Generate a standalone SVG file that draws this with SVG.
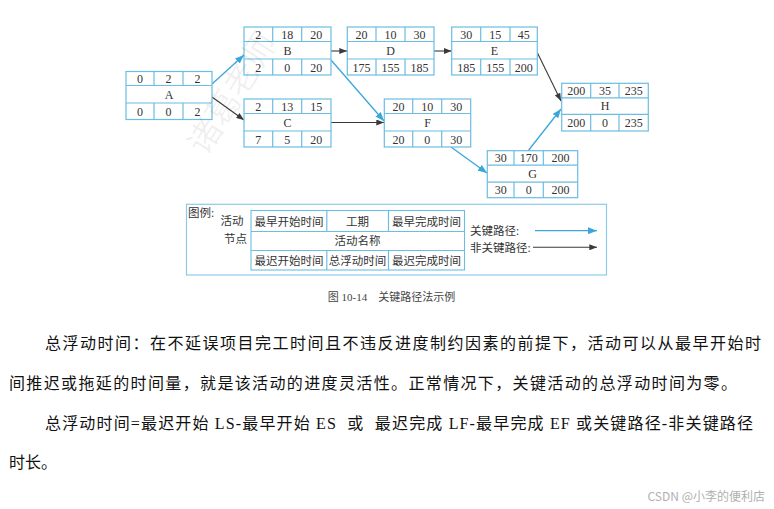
<svg xmlns="http://www.w3.org/2000/svg" width="774" height="509" viewBox="0 0 774 509">
<style>
.box{fill:#fff;stroke:#6bbde2;stroke-width:1.2}
.ln{stroke:#6bbde2;stroke-width:1.2;fill:none}
.n{font-family:"Liberation Serif","Noto Sans CJK SC",serif;font-size:12px;fill:#333;text-anchor:middle;dominant-baseline:central}
.lg{font-family:"Liberation Serif","Noto Sans CJK SC",serif;font-size:11.5px;fill:#333;dominant-baseline:central}
.lgc{text-anchor:middle}
.crit{stroke:#3aa6dc;stroke-width:1.3;fill:none;marker-end:url(#mb)}
.non{stroke:#3a3a3a;stroke-width:1.1;fill:none;marker-end:url(#mk)}
.para{font-family:"Liberation Serif","Noto Sans CJK SC",serif;font-size:16px;fill:#111;dominant-baseline:central}
</style>
<defs>
<marker id="mb" viewBox="0 0 9 7" refX="9" refY="3.5" markerWidth="9" markerHeight="7" markerUnits="userSpaceOnUse" orient="auto"><path d="M0,0 L9,3.5 L0,7 z" fill="#3aa6dc"/></marker>
<marker id="mk" viewBox="0 0 9 7" refX="9" refY="3.5" markerWidth="8" markerHeight="6" markerUnits="userSpaceOnUse" orient="auto"><path d="M0,0 L9,3.5 L0,7 z" fill="#3a3a3a"/></marker>
</defs>
<rect width="774" height="509" fill="#fff"/>

<g id="connectors">
<path class="crit" d="M212,84 L244,55"/>
<path class="non" d="M212,97 L244,120"/>
<path class="non" d="M331,51 L347,51"/>
<path class="crit" d="M331,60 L384,121"/>
<path class="non" d="M331,122.5 L384,122.5"/>
<path class="non" d="M434,51 L451.5,51"/>
<path class="non" d="M537,52 L561,101"/>
<path class="crit" d="M451,147 L487,173"/>
<path class="crit" d="M528,151 L561,109"/>
</g>

<g id="node-A" transform="translate(126,71.5)">
<rect class="box" width="86" height="48"/>
<path class="ln" d="M0,14 H86 M0,31.5 H86 M28,0 V14 M57,0 V14 M28,31.5 V48 M57,31.5 V48"/>
<text class="n" x="14" y="7.5">0</text><text class="n" x="42.5" y="7.5">2</text><text class="n" x="71.5" y="7.5">2</text>
<text class="n" x="43" y="23">A</text>
<text class="n" x="14" y="40">0</text><text class="n" x="42.5" y="40">0</text><text class="n" x="71.5" y="40">2</text>
</g>

<g id="node-B" transform="translate(244,27)">
<rect class="box" width="87" height="48"/>
<path class="ln" d="M0,14.5 H87 M0,32 H87 M28.7,0 V14.5 M57.7,0 V14.5 M28.7,32 V48 M57.7,32 V48"/>
<text class="n" x="14.3" y="7.5">2</text><text class="n" x="43.2" y="7.5">18</text><text class="n" x="72.3" y="7.5">20</text>
<text class="n" x="43.5" y="23.5">B</text>
<text class="n" x="14.3" y="40.5">2</text><text class="n" x="43.2" y="40.5">0</text><text class="n" x="72.3" y="40.5">20</text>
</g>

<g id="node-C" transform="translate(244,99)">
<rect class="box" width="87" height="48"/>
<path class="ln" d="M0,14.5 H87 M0,32 H87 M28.7,0 V14.5 M57.7,0 V14.5 M28.7,32 V48 M57.7,32 V48"/>
<text class="n" x="14.3" y="7.5">2</text><text class="n" x="43.2" y="7.5">13</text><text class="n" x="72.3" y="7.5">15</text>
<text class="n" x="43.5" y="23.5">C</text>
<text class="n" x="14.3" y="40.5">7</text><text class="n" x="43.2" y="40.5">5</text><text class="n" x="72.3" y="40.5">20</text>
</g>

<g id="node-D" transform="translate(347.3,27)">
<rect class="box" width="86.7" height="48"/>
<path class="ln" d="M0,14.5 H86.7 M0,32 H86.7 M28.7,0 V14.5 M57.7,0 V14.5 M28.7,32 V48 M57.7,32 V48"/>
<text class="n" x="14.3" y="7.5">20</text><text class="n" x="43.2" y="7.5">10</text><text class="n" x="72.2" y="7.5">30</text>
<text class="n" x="43.3" y="23.5">D</text>
<text class="n" x="14.3" y="40.5">175</text><text class="n" x="43.2" y="40.5">155</text><text class="n" x="72.2" y="40.5">185</text>
</g>

<g id="node-E" transform="translate(451.7,27)">
<rect class="box" width="85.6" height="48"/>
<path class="ln" d="M0,14.5 H85.6 M0,32 H85.6 M29,0 V14.5 M58.3,0 V14.5 M29,32 V48 M58.3,32 V48"/>
<text class="n" x="14.5" y="7.5">30</text><text class="n" x="43.6" y="7.5">15</text><text class="n" x="72" y="7.5">45</text>
<text class="n" x="42.8" y="23.5">E</text>
<text class="n" x="14.5" y="40.5">185</text><text class="n" x="43.6" y="40.5">155</text><text class="n" x="72" y="40.5">200</text>
</g>

<g id="node-F" transform="translate(384.3,99)">
<rect class="box" width="86.4" height="48"/>
<path class="ln" d="M0,14.5 H86.4 M0,32 H86.4 M28.4,0 V14.5 M57.4,0 V14.5 M28.4,32 V48 M57.4,32 V48"/>
<text class="n" x="14.2" y="7.5">20</text><text class="n" x="42.9" y="7.5">10</text><text class="n" x="71.9" y="7.5">30</text>
<text class="n" x="43.2" y="23.5">F</text>
<text class="n" x="14.2" y="40.5">20</text><text class="n" x="42.9" y="40.5">0</text><text class="n" x="71.9" y="40.5">30</text>
</g>

<g id="node-G" transform="translate(487.3,150.7)">
<rect class="box" width="90.4" height="47"/>
<path class="ln" d="M0,14.5 H90.4 M0,31.5 H90.4 M26.7,0 V14.5 M56,0 V14.5 M26.7,31.5 V47 M56,31.5 V47"/>
<text class="n" x="13.4" y="7.5">30</text><text class="n" x="41.4" y="7.5">170</text><text class="n" x="73.2" y="7.5">200</text>
<text class="n" x="45.2" y="23">G</text>
<text class="n" x="13.4" y="39.5">30</text><text class="n" x="41.4" y="39.5">0</text><text class="n" x="73.2" y="39.5">200</text>
</g>

<g id="node-H" transform="translate(561.7,83.3)">
<rect class="box" width="86.6" height="47.7"/>
<path class="ln" d="M0,14.5 H86.6 M0,31 H86.6 M29,0 V14.5 M57.3,0 V14.5 M29,31 V47.7 M57.3,31 V47.7"/>
<text class="n" x="14.5" y="7.5">200</text><text class="n" x="43.2" y="7.5">35</text><text class="n" x="72" y="7.5">235</text>
<text class="n" x="43.3" y="22.8">H</text>
<text class="n" x="14.5" y="39.5">200</text><text class="n" x="43.2" y="39.5">0</text><text class="n" x="72" y="39.5">235</text>
</g>

<text transform="translate(230,92) rotate(-58)" font-family="Noto Sans CJK SC,sans-serif" font-size="34" fill="#000" fill-opacity="0.06" text-anchor="middle" dominant-baseline="central">诸葛老师</text>

<g id="legend">
<rect x="186.5" y="204.3" width="420" height="70.7" fill="none" stroke="#8ccbe8" stroke-width="1.2"/>
<text class="lg" x="188" y="213">图例:</text>
<text class="lg" x="220.5" y="221">活动</text>
<text class="lg" x="224" y="239">节点</text>
<rect x="251" y="210.5" width="213.5" height="59.5" fill="none" stroke="#6bbde2" stroke-width="1.1"/>
<path class="ln" d="M251,231.5 H464.5 M251,250.5 H464.5 M326.8,210.5 V231.5 M388.5,210.5 V231.5 M326.8,250.5 V270 M388.5,250.5 V270" stroke-width="1.1"/>
<text class="lg lgc" x="289" y="221.5">最早开始时间</text>
<text class="lg lgc" x="357.6" y="221.5">工期</text>
<text class="lg lgc" x="426.5" y="221.5">最早完成时间</text>
<text class="lg lgc" x="357.6" y="241">活动名称</text>
<text class="lg lgc" x="289" y="260.5">最迟开始时间</text>
<text class="lg lgc" x="357.6" y="260.5">总浮动时间</text>
<text class="lg lgc" x="426.5" y="260.5">最迟完成时间</text>
<text class="lg" x="470" y="231">关键路径:</text>
<text class="lg" x="470" y="247.5">非关键路径:</text>
<path class="crit" d="M535,230.7 L597,230.7"/>
<path class="non" d="M533,247.3 L597,247.3"/>
</g>

<text x="391.5" y="296.5" font-family="Liberation Serif,Noto Sans CJK SC,serif" font-size="11" fill="#444" text-anchor="middle" dominant-baseline="central" xml:space="preserve">图 10-14    关键路径法示例</text>

<text class="para" x="45" y="343" textLength="716" lengthAdjust="spacing">总浮动时间：在不延误项目完工时间且不违反进度制约因素的前提下，活动可以从最早开始时</text>
<text class="para" x="9" y="383" textLength="728" lengthAdjust="spacing">间推迟或拖延的时间量，就是该活动的进度灵活性。正常情况下，关键活动的总浮动时间为零。</text>
<text class="para" x="45" y="423" textLength="708" lengthAdjust="spacing" xml:space="preserve">总浮动时间=最迟开始 LS-最早开始 ES  或  最迟完成 LF-最早完成 EF 或关键路径-非关键路径</text>
<text class="para" x="9" y="462">时长。</text>

<text x="765" y="495" font-family="Noto Sans CJK SC,sans-serif" font-size="12" fill="#b0b0b0" text-anchor="end" dominant-baseline="central">CSDN @小李的便利店</text>
</svg>
